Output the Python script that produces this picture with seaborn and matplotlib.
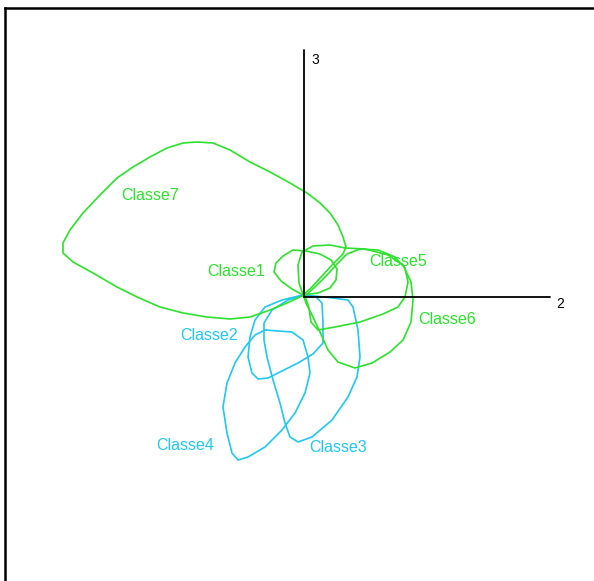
import numpy as np
import pandas as pd
import matplotlib
matplotlib.use("Agg")
import matplotlib.pyplot as plt
import seaborn as sns

# ---- data (factor-plane coordinates: axis 2 horizontal, axis 3 vertical) ----
classe7_x = [-0.02, -0.17, -0.34, -0.54, -0.74, -0.97, -1.21, -1.44, -1.67, -1.87, -2.11, -2.31, -2.41, -2.41, -2.34, -2.21, -2.04, -1.87, -1.71, -1.54, -1.37, -1.21, -1.07, -0.91, -0.74, -0.54, -0.34, -0.14, 0.03, 0.16, 0.26, 0.34, 0.39, 0.42, 0.39, 0.29, 0.18, 0.07]
classe7_y = [0.01, -0.06, -0.13, -0.20, -0.22, -0.20, -0.16, -0.10, 0.00, 0.10, 0.24, 0.35, 0.44, 0.54, 0.67, 0.84, 1.02, 1.19, 1.30, 1.40, 1.49, 1.54, 1.55, 1.54, 1.47, 1.35, 1.25, 1.14, 1.04, 0.94, 0.84, 0.72, 0.60, 0.50, 0.43, 0.33, 0.21, 0.09]

classe1_x = [-0.01, -0.12, -0.23, -0.30, -0.28, -0.21, -0.11, 0.02, 0.16, 0.27, 0.33, 0.32, 0.26, 0.14]
classe1_y = [0.02, 0.08, 0.16, 0.25, 0.34, 0.41, 0.47, 0.46, 0.43, 0.37, 0.28, 0.17, 0.09, 0.04]

classe5_x = [0.01, 0.11, 0.23, 0.33, 0.43, 0.56, 0.74, 0.91, 1.01, 1.04, 1.01, 0.94, 0.79, 0.56, 0.31, 0.14, 0.07, 0.05]
classe5_y = [0.01, 0.10, 0.22, 0.33, 0.43, 0.48, 0.47, 0.40, 0.29, 0.15, 0.00, -0.10, -0.17, -0.25, -0.30, -0.33, -0.25, -0.11]

classe6_x = [0.00, -0.05, -0.06, -0.02, 0.09, 0.26, 0.41, 0.61, 0.84, 0.99, 1.07, 1.09, 1.07, 0.99, 0.86, 0.68, 0.51, 0.34, 0.24, 0.16, 0.08, 0.02]
classe6_y = [0.00, 0.14, 0.32, 0.45, 0.51, 0.52, 0.49, 0.48, 0.42, 0.32, 0.15, -0.03, -0.25, -0.43, -0.55, -0.66, -0.71, -0.65, -0.53, -0.35, -0.18, -0.06]

classe2_x = [-0.01, -0.22, -0.39, -0.49, -0.54, -0.56, -0.52, -0.46, -0.36, -0.22, -0.06, 0.09, 0.19, 0.19, 0.18, 0.12]
classe2_y = [0.02, -0.03, -0.10, -0.23, -0.40, -0.60, -0.76, -0.82, -0.81, -0.74, -0.66, -0.57, -0.46, -0.26, -0.06, 0.00]

classe3_x = [-0.01, 0.21, 0.44, 0.49, 0.54, 0.56, 0.53, 0.44, 0.28, 0.08, -0.06, -0.14, -0.19, -0.24, -0.31, -0.37, -0.40, -0.40, -0.32, -0.16]
classe3_y = [0.02, 0.00, -0.03, -0.10, -0.33, -0.60, -0.80, -1.00, -1.23, -1.40, -1.45, -1.40, -1.26, -1.06, -0.83, -0.60, -0.43, -0.26, -0.13, -0.03]

classe4_x = [-0.39, -0.12, -0.01, 0.04, 0.06, 0.01, -0.09, -0.22, -0.39, -0.56, -0.66, -0.72, -0.77, -0.81, -0.77, -0.69, -0.59, -0.49]
classe4_y = [-0.33, -0.35, -0.43, -0.60, -0.76, -0.96, -1.16, -1.33, -1.50, -1.60, -1.63, -1.56, -1.36, -1.10, -0.86, -0.66, -0.50, -0.38]

class_names = ["Classe1", "Classe2", "Classe3", "Classe4", "Classe5", "Classe6", "Classe7"]
label_x = [-0.68, -0.95, 0.34, -1.19, 0.94, 1.43, -1.54]
label_y = [0.25, -0.39, -1.50, -1.48, 0.35, -0.23, 1.01]
axis_names = ["2", "3"]

GREEN = "#2ee02e"
BLUE = "#22c6f0"
palette = {"Classe1": GREEN, "Classe5": GREEN, "Classe6": GREEN, "Classe7": GREEN,
           "Classe2": BLUE, "Classe3": BLUE, "Classe4": BLUE}

curves = {
    "Classe1": (classe1_x, classe1_y),
    "Classe2": (classe2_x, classe2_y),
    "Classe3": (classe3_x, classe3_y),
    "Classe4": (classe4_x, classe4_y),
    "Classe5": (classe5_x, classe5_y),
    "Classe6": (classe6_x, classe6_y),
    "Classe7": (classe7_x, classe7_y),
}

rows = []
for name, (xs, ys) in curves.items():
    xs_c = list(xs) + [xs[0]]
    ys_c = list(ys) + [ys[0]]
    for i, (a, b) in enumerate(zip(xs_c, ys_c)):
        rows.append({"classe": name, "x": a, "y": b, "order": i})
df = pd.DataFrame(rows)

sns.set_style("white")
plt.rcParams["font.family"] = ["Liberation Sans", "DejaVu Sans"]

W, H = 594, 581
fig = plt.figure(figsize=(W / 100, H / 100), dpi=100)
ax = fig.add_axes([5 / W, 0, (W - 5) / W, (H - 8) / H])

sns.lineplot(data=df, x="x", y="y", hue="classe", palette=palette, sort=False,
             estimator=None, units="classe", legend=False, linewidth=1.2, ax=ax)

# factor axes
ax.plot([0, 0], [0, 2.47], color="black", lw=1.3)
ax.plot([0, 2.46], [0, 0], color="black", lw=1.3)
ax.text(2.56, -0.07, axis_names[0], fontsize=10, ha="center", va="center", color="black")
ax.text(0.11, 2.37, axis_names[1], fontsize=10, ha="center", va="center", color="black")

for name, lx, ly in zip(class_names, label_x, label_y):
    ax.text(lx, ly, name, fontsize=11.5, ha="center", va="center", color=palette[name])

ax.set_xlim(-2.99, 2.90)
ax.set_ylim(-2.84, 2.89)
ax.set_xticks([])
ax.set_yticks([])
ax.set_xlabel("")
ax.set_ylabel("")
for s in ["right", "bottom"]:
    ax.spines[s].set_visible(False)
for s in ["left", "top"]:
    ax.spines[s].set_visible(True)
    ax.spines[s].set_color("black")
    ax.spines[s].set_linewidth(1.8)

fig.savefig("out.png", dpi=100, facecolor="white")
